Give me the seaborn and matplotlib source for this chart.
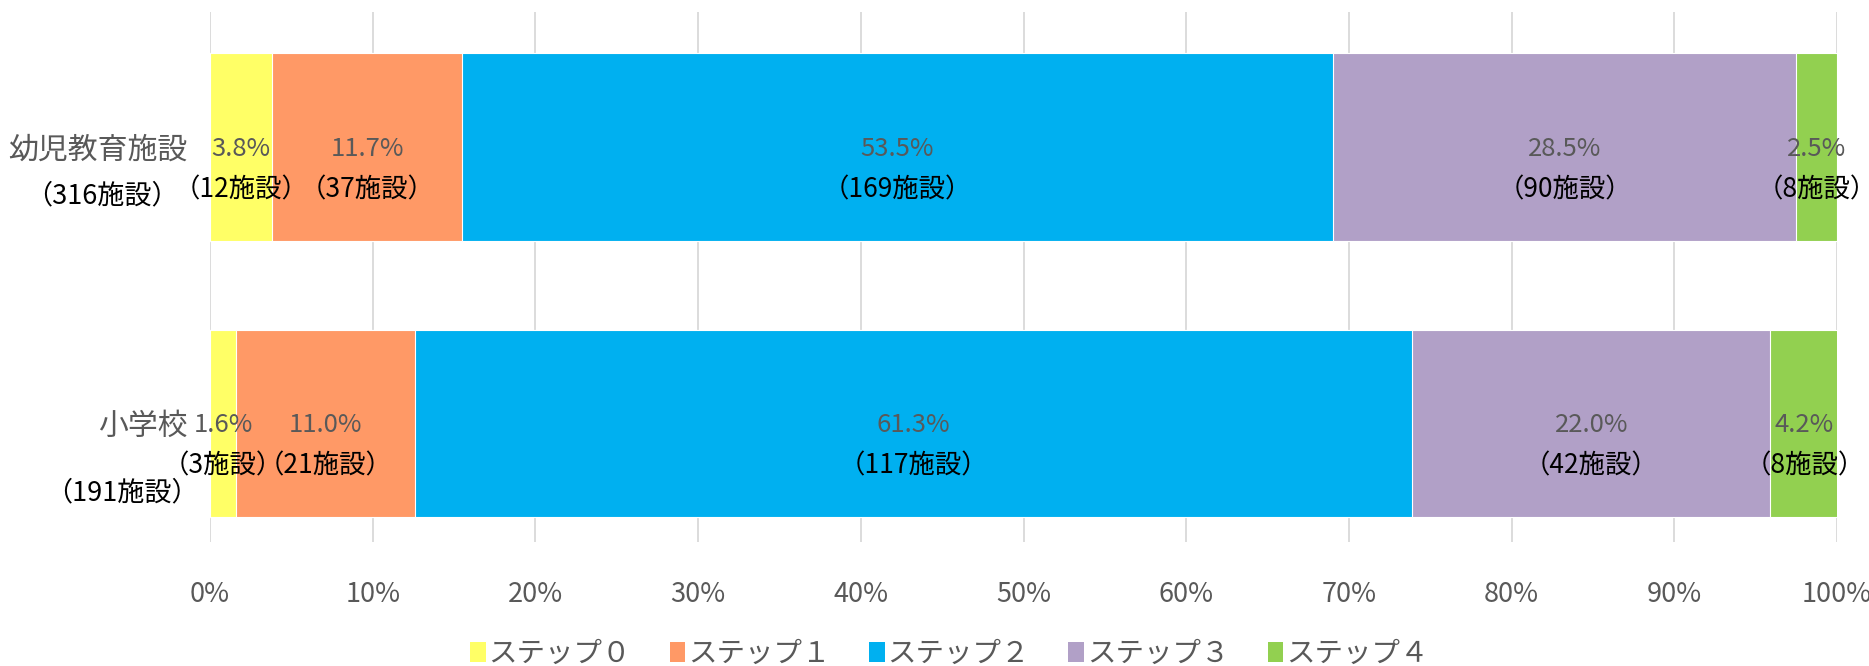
import matplotlib
matplotlib.use('Agg')
import matplotlib.pyplot as plt
import seaborn as sns
import pandas as pd
import numpy as np
from matplotlib.patches import Patch
from matplotlib.transforms import blended_transform_factory

# data
categories = ['幼児教育施設', '小学校']
totals = [316, 191]
steps = ['ステップ０', 'ステップ１', 'ステップ２', 'ステップ３', 'ステップ４']
pct_kindergarten = [3.8, 11.7, 53.5, 28.5, 2.5]
pct_school = [1.6, 11.0, 61.3, 22.0, 4.2]
cnt_kindergarten = [12, 37, 169, 90, 8]
cnt_school = [3, 21, 117, 42, 8]
colors = ['#FFFF66', '#FF9966', '#00B0F0', '#B1A0C7', '#92D050']

sns.set_style('white')
plt.rcParams['font.family'] = ['Noto Sans CJK JP', 'DejaVu Sans']

pct = np.array([pct_kindergarten, pct_school])
cnt = np.array([cnt_kindergarten, cnt_school])
cum = pct.cumsum(axis=1)

fig = plt.figure(figsize=(18.69, 6.66), dpi=100)
ax = fig.add_axes([0.1124, 0.186, 0.8705, 0.796])

# stacked bars: draw cumulative totals from the last step backwards
for i in range(len(steps) - 1, -1, -1):
    df = pd.DataFrame({'cat': categories, 'val': cum[:, i]})
    sns.barplot(data=df, x='val', y='cat', orient='h', color=colors[i],
                saturation=1, width=0.68, ax=ax, edgecolor='white', linewidth=0.8)

ax.set_xlim(0, 100)
ax.set_ylim(1.43, -0.49)
ax.set_xticks(np.arange(0, 101, 10))
ax.set_xticklabels([f'{v}%' for v in range(0, 101, 10)], fontsize=19.5, color='#595959')
ax.tick_params(axis='x', length=0, pad=28)
ax.set_yticks([])
ax.set_xlabel('')
ax.set_ylabel('')
ax.grid(axis='x', color='#D9D9D9', linewidth=1.3)
ax.set_axisbelow(True)
for s in ax.spines.values():
    s.set_visible(False)

# segment labels
for r in range(2):
    for i in range(len(steps)):
        xc = cum[r, i] - pct[r, i] / 2
        ax.text(xc, r + 0.005, f'{pct[r, i]:.1f}%', ha='center', va='center',
                fontsize=18.5, color='#595959')
        ax.text(xc, r + 0.155, f'（{cnt[r, i]}施設）', ha='center', va='center',
                fontsize=19, color='black')

# category labels
tr = blended_transform_factory(ax.transAxes, ax.transData)
name_y = [0.01, 1.01]
count_y = [0.175, 1.25]
count_x = [-0.0664, -0.054]
for r in range(2):
    ax.text(-0.014, name_y[r], categories[r], transform=tr, ha='right', va='center',
            fontsize=21.5, color='#595959')
    ax.text(count_x[r], count_y[r], f'（{totals[r]}施設）', transform=tr, ha='center',
            va='center', fontsize=19.5, color='black')

handles = [Patch(facecolor=c, edgecolor='none') for c in colors]
fig.legend(handles, steps, loc='center', bbox_to_anchor=(0.508, 0.018), ncol=5,
           frameon=False, fontsize=20.5, labelcolor='#595959', handlelength=0.55,
           handleheight=0.7, handletextpad=0.1, columnspacing=1.35)

fig.savefig('out.png', dpi=100)
